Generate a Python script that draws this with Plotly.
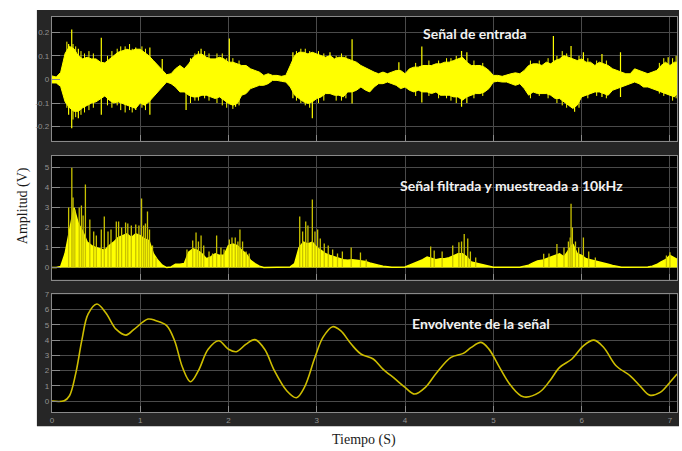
import plotly.graph_objects as go
from plotly.subplots import make_subplots

# ---------------- data ----------------
# common time base for the sampled envelopes (s)
t_axis = [round(i * 0.05, 2) for i in range(143)]

# input signal: upper / lower limits of the dense waveform (V)
entrada_sup = [
    0.015, 0.010, 0.030, 0.110, 0.140, 0.130, 0.100, 0.087, 0.094, 0.087,
    0.087, 0.073, 0.070, 0.087, 0.100, 0.115, 0.120, 0.128, 0.122, 0.128,
    0.128, 0.115, 0.100, 0.080, 0.059, 0.038, 0.020, 0.024, 0.045, 0.059,
    0.045, 0.066, 0.094, 0.107, 0.107, 0.094, 0.087, 0.087, 0.094, 0.087,
    0.073, 0.073, 0.066, 0.059, 0.059, 0.045, 0.038, 0.031, 0.017, 0.024,
    0.017, 0.017, 0.013, 0.017, 0.059, 0.101, 0.115, 0.115, 0.108, 0.115,
    0.108, 0.101, 0.094, 0.101, 0.087, 0.094, 0.094, 0.087, 0.080, 0.073,
    0.059, 0.050, 0.038, 0.031, 0.024, 0.031, 0.024, 0.031, 0.038, 0.038,
    0.024, 0.045, 0.052, 0.052, 0.059, 0.059, 0.059, 0.066, 0.066, 0.073,
    0.073, 0.080, 0.087, 0.094, 0.073, 0.059, 0.059, 0.059, 0.052, 0.038,
    0.017, 0.017, 0.013, 0.020, 0.024, 0.028, 0.024, 0.038, 0.059, 0.066,
    0.066, 0.059, 0.073, 0.066, 0.080, 0.087, 0.101, 0.094, 0.087, 0.080,
    0.087, 0.073, 0.073, 0.059, 0.073, 0.066, 0.059, 0.045, 0.038, 0.031,
    0.024, 0.024, 0.045, 0.038, 0.031, 0.024, 0.031, 0.038, 0.059, 0.073,
    0.059, 0.073, 0.073,
]
entrada_inf = [
    -0.015, -0.015, -0.030, -0.095, -0.120, -0.135, -0.135, -0.120, -0.110, -0.100,
    -0.095, -0.081, -0.070, -0.088, -0.100, -0.095, -0.100, -0.110, -0.116, -0.123,
    -0.100, -0.109, -0.095, -0.074, -0.053, -0.032, -0.011, -0.018, -0.032, -0.053,
    -0.053, -0.067, -0.074, -0.074, -0.067, -0.067, -0.074, -0.081, -0.074, -0.088,
    -0.102, -0.109, -0.102, -0.067, -0.060, -0.039, -0.032, -0.025, -0.025, -0.018,
    -0.004, -0.004, -0.008, -0.011, -0.032, -0.067, -0.081, -0.095, -0.102, -0.095,
    -0.081, -0.074, -0.060, -0.060, -0.067, -0.067, -0.074, -0.053, -0.053, -0.046,
    -0.032, -0.045, -0.053, -0.032, -0.018, -0.018, -0.011, -0.018, -0.025, -0.039,
    -0.032, -0.046, -0.053, -0.046, -0.053, -0.053, -0.060, -0.053, -0.067, -0.067,
    -0.067, -0.074, -0.074, -0.088, -0.074, -0.067, -0.060, -0.060, -0.053, -0.039,
    -0.011, -0.008, -0.011, -0.011, -0.018, -0.025, -0.018, -0.039, -0.067, -0.053,
    -0.060, -0.060, -0.060, -0.067, -0.081, -0.081, -0.095, -0.109, -0.123, -0.109,
    -0.074, -0.067, -0.060, -0.053, -0.053, -0.060, -0.067, -0.046, -0.039, -0.032,
    -0.025, -0.018, -0.011, -0.018, -0.032, -0.032, -0.039, -0.046, -0.053, -0.060,
    -0.067, -0.074, -0.053,
]
# isolated peaks of the input signal: time (s), top (V), bottom (V)
pico_t = [0.19, 0.225, 0.30, 0.56, 0.95, 1.11, 1.25, 1.52, 1.69, 2.01, 2.08,
          2.73, 2.95, 3.15, 3.40, 3.93, 4.19, 4.64, 4.70, 5.68, 5.88, 5.92,
          6.02, 6.23, 6.44, 6.98]
pico_sup = [0.150, 0.212, 0.130, 0.177, 0.135, 0.135, 0.087, 0.020, 0.130, 0.173, 0.060,
            0.115, 0.100, 0.115, 0.170, 0.073, 0.140, 0.120, 0.115, 0.184, 0.142, 0.050,
            0.115, 0.108, 0.115, 0.094]
pico_inf = [-0.150, -0.207, -0.165, -0.150, -0.130, -0.150, -0.010, -0.130, -0.060, -0.100, -0.116,
            -0.080, -0.165, -0.060, -0.102, -0.032, -0.098, -0.116, -0.100, -0.060, -0.100, -0.137,
            -0.060, -0.074, -0.074, -0.060]
# smaller ragged peaks along the edges of the input signal
borde_t = [0.17, 0.24, 0.27, 0.33, 0.37, 0.42, 0.47, 0.63, 0.68, 0.74, 0.78, 0.83,
           0.88, 0.91, 1.02, 1.06, 1.57, 1.62, 1.66, 1.73, 1.78, 1.87, 1.93, 1.98,
           2.05, 2.12, 2.77, 2.82, 2.87, 2.92, 3.02, 3.08, 3.22, 3.28, 3.33, 4.12,
           4.27, 4.38, 4.47, 4.52, 4.58, 4.78, 4.88, 5.42, 5.52, 5.62, 5.72, 5.78,
           5.83, 5.97, 6.07, 6.17, 6.28, 6.88, 6.93, 7.03, 7.07]
borde_sup = [0.16, 0.15, 0.14, 0.12, 0.11, 0.12, 0.11, 0.10, 0.12, 0.13, 0.14, 0.14,
             0.15, 0.13, 0.14, 0.13, 0.09, 0.11, 0.12, 0.12, 0.11, 0.11, 0.11, 0.09,
             0.09, 0.08, 0.12, 0.13, 0.13, 0.12, 0.12, 0.11, 0.10, 0.11, 0.10, 0.07,
             0.08, 0.08, 0.09, 0.09, 0.10, 0.08, 0.07, 0.08, 0.08, 0.09, 0.10, 0.12,
             0.11, 0.10, 0.09, 0.08, 0.08, 0.07, 0.09, 0.09, 0.10]
borde_inf = [-0.12, -0.17, -0.16, -0.15, -0.14, -0.13, -0.12, -0.11, -0.12, -0.11, -0.13, -0.14,
             -0.13, -0.14, -0.12, -0.13, -0.10, -0.09, -0.09, -0.08, -0.09, -0.10, -0.11, -0.12,
             -0.125, -0.11, -0.09, -0.10, -0.11, -0.12, -0.10, -0.09, -0.09, -0.09, -0.08, -0.07,
             -0.07, -0.08, -0.08, -0.09, -0.10, -0.08, -0.07, -0.08, -0.07, -0.08, -0.10, -0.11,
             -0.12, -0.12, -0.08, -0.07, -0.08, -0.06, -0.07, -0.09, -0.08]

# filtered and sampled signal: solid body (V)
filtrada = [
    0.00, 0.00, 0.05, 0.70, 1.84, 3.00, 2.20, 1.80, 1.27, 1.10,
    1.00, 0.94, 0.86, 1.10, 1.27, 1.50, 1.60, 1.68, 1.50, 1.68,
    1.60, 1.43, 1.35, 0.69, 0.36, 0.12, 0.00, 0.03, 0.16, 0.16,
    0.20, 0.77, 0.94, 0.86, 0.69, 0.44, 0.53, 0.69, 0.61, 0.61,
    1.10, 1.18, 1.10, 0.86, 0.69, 0.36, 0.20, 0.07, 0.00, 0.00,
    0.00, 0.00, 0.00, 0.01, 0.03, 0.20, 1.00, 1.27, 1.18, 1.27,
    1.00, 0.86, 0.69, 0.61, 0.53, 0.44, 0.39, 0.36, 0.39, 0.36,
    0.33, 0.30, 0.23, 0.16, 0.12, 0.07, 0.03, 0.01, 0.01, 0.01,
    0.03, 0.12, 0.20, 0.28, 0.39, 0.53, 0.44, 0.39, 0.44, 0.44,
    0.49, 0.61, 0.69, 0.69, 0.53, 0.28, 0.23, 0.16, 0.12, 0.07,
    0.02, 0.01, 0.01, 0.01, 0.01, 0.01, 0.01, 0.07, 0.12, 0.23,
    0.33, 0.36, 0.44, 0.53, 0.61, 0.69, 0.53, 0.86, 1.18, 0.69,
    0.61, 0.44, 0.39, 0.33, 0.28, 0.23, 0.16, 0.10, 0.05, 0.02,
    0.01, 0.01, 0.01, 0.01, 0.01, 0.03, 0.07, 0.15, 0.28, 0.39,
    0.61, 0.49, 0.36,
]
# narrow peaks of the filtered signal: time (s), height (V)
filtrada_pico_t = [
    0.19, 0.226, 0.24, 0.26, 0.31, 0.335, 0.354, 0.38, 0.43, 0.474, 0.504, 0.56,
    0.594, 0.636, 0.67, 0.73, 0.756, 0.79, 0.835, 0.86, 0.90, 0.95, 0.986, 1.016,
    1.04, 1.06, 1.083, 1.106, 1.14, 1.18, 1.53, 1.595, 1.633, 1.66, 1.69, 1.72,
    1.78, 1.82, 1.866, 1.915, 1.95, 2.01, 2.04, 2.077, 2.107, 2.13, 2.16, 2.20,
    2.235, 2.807, 2.84, 2.875, 2.90, 2.95, 2.98, 3.01, 3.04, 3.085, 3.13, 3.18,
    3.235, 3.29, 3.39, 3.495, 3.56, 4.29, 4.33, 4.42, 4.54, 4.61, 4.64, 4.67,
    4.71, 4.74, 4.80, 5.57, 5.63, 5.72, 5.80, 5.85, 5.87, 5.88, 5.895, 5.93,
    5.966, 6.02, 6.08, 6.155, 6.96, 7.00,
]
filtrada_pico_v = [
    3.00, 5.00, 3.50, 2.90, 3.00, 3.10, 2.60, 4.15, 2.40, 1.80, 1.60, 1.90,
    2.55, 1.80, 1.90, 2.30, 2.30, 2.00, 2.25, 2.20, 2.10, 2.15, 2.10, 3.45,
    2.10, 2.20, 2.80, 1.90, 1.10, 0.50, 0.90, 1.35, 1.75, 1.30, 1.60, 1.10,
    0.80, 0.70, 1.60, 1.00, 0.90, 1.40, 1.50, 1.50, 1.30, 1.90, 1.30, 0.80,
    0.70, 2.55, 1.80, 2.30, 2.10, 3.40, 1.80, 1.90, 1.45, 1.20, 1.10, 0.90,
    0.70, 0.80, 1.00, 0.75, 0.40, 1.05, 0.85, 0.80, 1.10, 1.27, 1.30, 1.68,
    1.45, 0.80, 0.50, 0.69, 0.70, 1.18, 1.00, 1.30, 1.50, 3.19, 2.00, 1.30,
    1.00, 1.50, 0.80, 0.50, 0.60, 0.77,
]

# signal envelope (V)
env_t = [0.00, 0.14, 0.20, 0.27, 0.34, 0.41, 0.51, 0.61, 0.73, 0.84, 0.93, 1.09,
         1.18, 1.30, 1.39, 1.48, 1.57, 1.66, 1.77, 1.89, 2.00, 2.09, 2.20, 2.30,
         2.41, 2.52, 2.66, 2.77, 2.86, 2.98, 3.07, 3.18, 3.27, 3.39, 3.50, 3.64,
         3.75, 3.89, 4.00, 4.11, 4.23, 4.36, 4.52, 4.66, 4.75, 4.86, 4.95, 5.07,
         5.20, 5.34, 5.52, 5.64, 5.75, 5.89, 6.02, 6.14, 6.25, 6.39, 6.55, 6.66,
         6.77, 6.89, 7.00, 7.08]
env_v = [0.00, 0.02, 0.35, 1.80, 4.00, 5.70, 6.37, 5.80, 4.70, 4.33, 4.70, 5.38,
         5.27, 4.95, 3.96, 2.20, 1.27, 2.00, 3.40, 3.96, 3.40, 3.24, 3.74, 4.03,
         3.40, 2.00, 0.68, 0.22, 0.90, 2.87, 4.18, 4.88, 4.62, 3.74, 3.09, 2.76,
         2.10, 1.44, 0.90, 0.46, 0.90, 1.88, 2.87, 3.13, 3.52, 3.85, 3.41, 2.21,
         1.00, 0.28, 0.57, 1.33, 2.21, 2.76, 3.63, 4.00, 3.52, 2.32, 1.66, 1.00,
         0.39, 0.57, 1.23, 1.77]

# axis ticks
x_ticks = [0, 1, 2, 3, 4, 5, 6, 7]
y1_ticks = [-0.2, -0.1, 0, 0.1, 0.2]
y1_text = ["-0.2", "-0.1", "0", "0.1", "0.2"]
y2_ticks = [0, 1, 2, 3, 4, 5]
y3_ticks = [0, 1, 2, 3, 4, 5, 6, 7]

# ---------------- styling ----------------
W, H = 682, 451
AMARILLO = "#ffff00"
AMARILLO_PICO = "#c9c200"
AMARILLO_ENV = "#cdbd00"
GRID = "#4a4a4a"
BORDE = "#8a8a8a"
MARCO = "#262626"
TICK_FONT = dict(family="Liberation Sans, Arial, sans-serif", size=8, color="#929292")


def segmentos(xs, y0s, y1s):
    """Vertical segments as one polyline separated by gaps."""
    px, py = [], []
    for x, a, b in zip(xs, y0s, y1s):
        px += [x, x, None]
        py += [a, b, None]
    return px, py


fig = make_subplots(rows=3, cols=1)

# panel 1: input signal
fig.add_trace(go.Scatter(
    x=t_axis + t_axis[::-1], y=entrada_sup + entrada_inf[::-1],
    fill="toself", fillcolor=AMARILLO, mode="lines",
    line=dict(color=AMARILLO, width=1), hoverinfo="skip", showlegend=False),
    row=1, col=1)
sx, sy = segmentos(borde_t, borde_inf, borde_sup)
fig.add_trace(go.Scatter(x=sx, y=sy, mode="lines",
                         line=dict(color=AMARILLO, width=1),
                         hoverinfo="skip", showlegend=False), row=1, col=1)
sx, sy = segmentos(pico_t, pico_inf, pico_sup)
fig.add_trace(go.Scatter(x=sx, y=sy, mode="lines",
                         line=dict(color=AMARILLO, width=1.2),
                         hoverinfo="skip", showlegend=False), row=1, col=1)

# panel 2: filtered and sampled signal
fig.add_trace(go.Scatter(
    x=t_axis, y=filtrada, fill="tozeroy", fillcolor=AMARILLO, mode="lines",
    line=dict(color=AMARILLO, width=1.5), hoverinfo="skip", showlegend=False),
    row=2, col=1)
sx, sy = segmentos(filtrada_pico_t, [0] * len(filtrada_pico_t), filtrada_pico_v)
fig.add_trace(go.Scatter(x=sx, y=sy, mode="lines",
                         line=dict(color=AMARILLO_PICO, width=1.3),
                         hoverinfo="skip", showlegend=False), row=2, col=1)

# panel 3: envelope
fig.add_trace(go.Scatter(
    x=env_t, y=env_v, mode="lines",
    line=dict(color=AMARILLO_ENV, width=1.6, shape="spline", smoothing=1.0),
    hoverinfo="skip", showlegend=False), row=3, col=1)

# panel geometry in pixels -> paper fractions
x_px = (50, 677)
y_doms = [(13, 138), (153, 278), (293, 412)]
y_ranges = [[-0.26, 0.265], [-0.6, 5.6], [-0.74, 7.0]]
y_tick_sets = [(y1_ticks, y1_text), (y2_ticks, [str(v) for v in y2_ticks]),
               (y3_ticks, [str(v) for v in y3_ticks])]

# dark scope frame, then a black field behind every panel
formas = [dict(type="rect", xref="paper", yref="paper",
               x0=35 / W, x1=679 / W, y0=1 - 426 / H, y1=1 - 6 / H,
               fillcolor=MARCO, line=dict(width=0), layer="below")]
for top, bot in y_doms:
    formas.append(dict(type="rect", xref="paper", yref="paper",
                       x0=x_px[0] / W, x1=x_px[1] / W, y0=1 - bot / H, y1=1 - top / H,
                       fillcolor="black", line=dict(width=0), layer="below"))

for i in range(3):
    top, bot = y_doms[i]
    fig.update_xaxes(
        row=i + 1, col=1, domain=[x_px[0] / W, x_px[1] / W], range=[0, 7.08],
        tickvals=x_ticks, ticktext=[str(v) for v in x_ticks],
        showticklabels=(i == 2), tickfont=TICK_FONT,
        showgrid=True, gridcolor=GRID, gridwidth=1, zeroline=False,
        showline=True, linecolor=BORDE, linewidth=1, mirror=True,
        ticks="inside", ticklen=6, tickcolor=BORDE, fixedrange=True)
    tv, tt = y_tick_sets[i]
    fig.update_yaxes(
        row=i + 1, col=1, domain=[1 - bot / H, 1 - top / H], range=y_ranges[i],
        tickvals=tv, ticktext=tt, tickfont=TICK_FONT,
        showgrid=True, gridcolor=GRID, gridwidth=1, zeroline=False,
        showline=True, linecolor=BORDE, linewidth=1, mirror=True,
        ticks="inside", ticklen=8, tickcolor=BORDE, fixedrange=True)

TITULO = dict(family="Lato, 'Open Sans', sans-serif", size=14, color="#f2f2f2")
ETIQUETA = dict(family="'Liberation Serif', 'Times New Roman', serif", size=14, color="#1a1a1a")


def nota(texto, x, y, fuente, angulo=0):
    return dict(text=texto, xref="paper", yref="paper", x=x / W, y=1 - y / H,
                xanchor="center", yanchor="middle", showarrow=False,
                textangle=angulo, font=fuente)


fig.update_layout(
    width=W, height=H,
    margin=dict(l=0, r=0, t=0, b=0),
    paper_bgcolor="white", plot_bgcolor="black",
    showlegend=False,
    shapes=formas,
    annotations=[
        nota("<b>Señal de entrada</b>", 474, 30, TITULO),
        nota("<b>Señal filtrada y muestreada a 10kHz</b>", 511, 183, TITULO),
        nota("<b>Envolvente de la señal</b>", 480, 322, TITULO),
        nota("Amplitud (V)", 21, 203, ETIQUETA, -90),
        nota("Tiempo (S)", 363, 440, ETIQUETA),
    ],
)

fig.write_html("out.html", config={"displayModeBar": False})
